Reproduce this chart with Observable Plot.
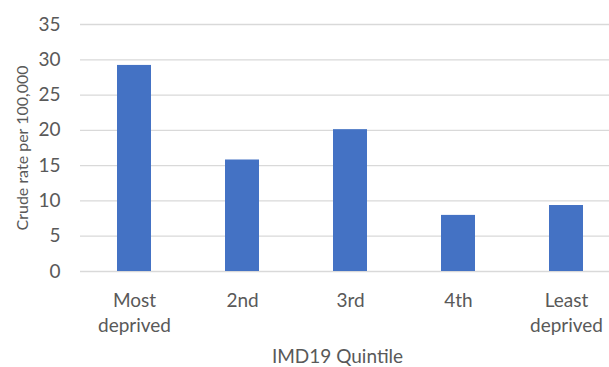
<!DOCTYPE html>
<html>
<head>
<meta charset="utf-8">
<script src="https://cdn.jsdelivr.net/npm/d3@7"></script>
<script src="https://cdn.jsdelivr.net/npm/@observablehq/plot@0.6"></script>
<style>
  html, body { margin: 0; padding: 0; background: #fff; }
  #chart svg { display: block; }
</style>
</head>
<body>
<div id="chart"></div>
<script>
// Crude rate per 100,000 by IMD 2019 deprivation quintile
const quintiles = ["Most deprived", "2nd", "3rd", "4th", "Least deprived"];
const rates = [29.2, 15.8, 20.1, 7.95, 9.35];
const yTicks = [0, 5, 10, 15, 20, 25, 30, 35];
const xTitle = "IMD19 Quintile";
const yTitle = "Crude rate per 100,000";

const data = quintiles.map((q, i) => ({quintile: q, rate: rates[i]}));

const textColor = "#595959";
const gridColor = "#d9d9d9";
const barColor = "#4472C4";

const chart = Plot.plot({
  width: 609,
  height: 367,
  marginTop: 24,
  marginBottom: 96,
  marginLeft: 80,
  marginRight: -11,
  style: {fontFamily: "Lato, 'Open Sans', sans-serif", color: textColor, background: "#fff"},
  x: {domain: quintiles, paddingInner: 0.685, paddingOuter: 0.3425, label: null},
  y: {domain: [0, 35], label: null},
  marks: [
    Plot.ruleY(yTicks, {stroke: gridColor, strokeWidth: 1.3}),
    Plot.barY(data, {x: "quintile", y: "rate", fill: barColor}),
    Plot.axisY(yTicks, {
      tickSize: 0, tickPadding: 20, fontSize: 19, fill: textColor, label: null
    }),
    Plot.axisX({
      tickSize: 0, tickPadding: 18, fontSize: 19, fill: textColor,
      lineHeight: 1.3, label: null,
      tickFormat: d => d.replace(" ", "\n")
    }),
    Plot.text([xTitle], {
      frameAnchor: "bottom", dy: 91, dx: -13, fontSize: 19, fill: textColor
    }),
    Plot.text([yTitle], {
      frameAnchor: "left", textAnchor: "middle", dx: -58, rotate: -90, fontSize: 16, fill: textColor
    })
  ]
});

document.getElementById("chart").appendChild(chart);
</script>
</body>
</html>
